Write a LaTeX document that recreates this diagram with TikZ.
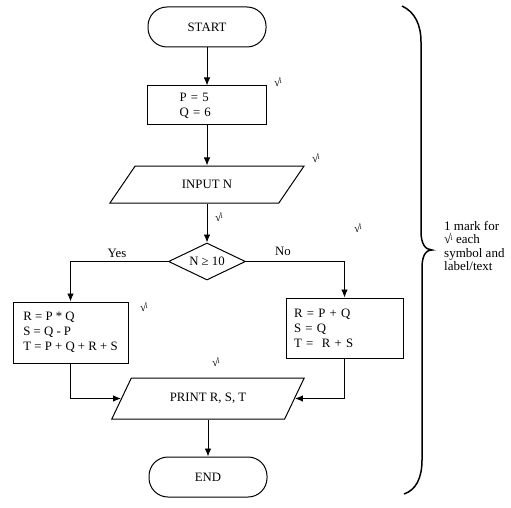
\documentclass[tikz,border=0pt]{standalone}
\usepackage{fontspec}
\setmainfont{Liberation Serif}
\usetikzlibrary{shapes.geometric,arrows.meta}
\newcommand\tick{\mbox{√\kern-0.5pt\raisebox{0.55ex}{\fontsize{7}{7}\selectfont i}}}
\begin{document}
\begin{tikzpicture}[x=1pt,y=-1pt,
  every node/.style={font=\fontsize{12.8}{15}\selectfont},
  base/.style={draw, line width=1pt, inner sep=0pt},
  term/.style={base, rectangle, rounded corners=19pt, minimum width=118pt, minimum height=40pt},
  proc/.style={base, rectangle, align=left},
  io/.style={base, trapezium, trapezium stretches=true},
  decision/.style={base, diamond, aspect=2},
  arr/.style={line width=0.9pt, -{Latex[length=8pt,width=6.5pt]}},
  ck/.style={font=\fontsize{11.5}{11.5}\selectfont, inner sep=0pt},
  lbl/.style={inner sep=0pt}
]
\useasboundingbox (0,0) rectangle (511,508);

% main column
\node[term] (start) at (207,27) {START};
\node[proc, minimum width=119pt, minimum height=39pt, text width=55pt, inner xsep=32pt] (init) at (207,105.5) {P = 5\\Q = 6};
\node[io, trapezium left angle=44, trapezium right angle=136, minimum width=195pt, minimum height=37pt] (input) at (207,184.5) {INPUT N};
\node[decision, minimum width=77pt, minimum height=37pt] (test) at (207,261.5) {N ≥ 10};
\node[proc, minimum width=115pt, minimum height=61pt, inner xsep=8pt] (yesbox) at (70.5,332.5) {R = P * Q\\S = Q - P\\T = P + Q + R + S};
\node[proc, minimum width=117pt, minimum height=60pt, text width=101pt, inner xsep=8pt] (nobox) at (344.5,328) {R = P + Q\\S = Q\\T = \ R + S};
\node[io, trapezium left angle=47, trapezium right angle=133, minimum width=193pt, minimum height=41pt] (print) at (208,398.5) {PRINT R, S, T};
\node[term] (end) at (208,477) {END};

% branch labels
\node[lbl] (yes) at (117,253) {Yes};
\node[lbl] (no) at (283,251) {No};

% connectors
\draw[arr] (start) -- (init);
\draw[arr] (init) -- (input);
\draw[arr] (input) -- (test);
\draw[arr] (test.west) -| (yesbox.north);
\draw[arr] (test.east) -| (nobox.north);
\draw[arr] (yesbox.south) |- (print.left side);
\draw[arr] (nobox.south) |- (print.right side);
\draw[arr] (print) -- (end);

% ticks
\node[ck] (c1) at (278,82) {\tick};
\node[ck] (c2) at (316,158) {\tick};
\node[ck] (c3) at (219,217) {\tick};
\node[ck] (c4) at (144,307) {\tick};
\node[ck] (c5) at (358,228) {\tick};
\node[ck] (c6) at (216,362) {\tick};

% side note and brace
\node[anchor=west, align=left, inner sep=0pt, font=\fontsize{13}{13.5}\selectfont] (note) at (444,246) {1 mark for\\\tick\ each\\symbol and\\label/text};
\coordinate (btop) at (402,6);
\coordinate (btip) at (432,250);
\coordinate (bbot) at (404,494);
\draw[line width=1.5pt] (btop) .. controls (415,12) and (421,25) .. (421,42)
  -- (421,232) .. controls (421,243) and (425,250) .. (btip)
  .. controls (425,250) and (422,257) .. (422,268)
  -- (422,460) .. controls (422,478) and (416,490) .. (bbot);
\end{tikzpicture}
\end{document}
